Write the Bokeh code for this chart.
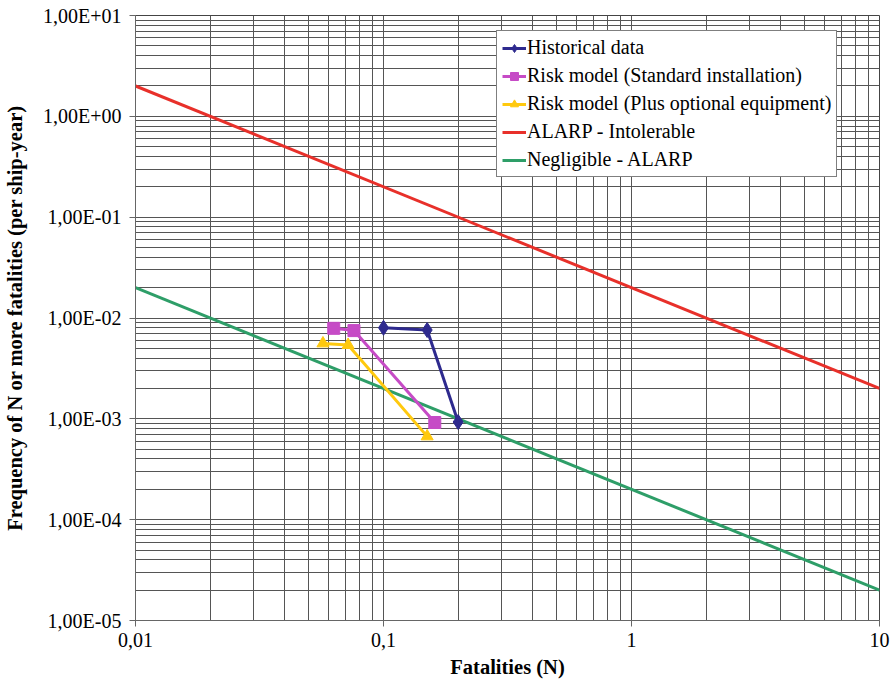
from bokeh.plotting import figure
from bokeh.models import FixedTicker, CustomJSTickFormatter, Legend, LegendItem
from bokeh.embed import file_html
from bokeh.resources import INLINE

# Data
hist_x = [0.1, 0.15, 0.2]
hist_y = [0.0080, 0.0076, 0.00093]
std_x = [0.063, 0.076, 0.161]
std_y = [0.0079, 0.0075, 0.00092]
opt_x = [0.057, 0.072, 0.150]
opt_y = [0.0056, 0.0054, 0.00067]
alarp_x = [0.01, 10]
alarp_y = [2.0, 0.002]
negl_x = [0.01, 10]
negl_y = [0.02, 0.00002]

x_ticks = [0.01, 0.1, 1, 10]
y_ticks = [1e-5, 1e-4, 1e-3, 1e-2, 1e-1, 1e0, 1e1]

x_minor = [m * t for t in x_ticks[:-1] for m in range(2, 10)]
y_minor = [m * t for t in y_ticks[:-1] for m in range(2, 10)]

FONT = "Liberation Serif"

p = figure(width=890, height=675, frame_width=744, frame_height=605,
           x_axis_type="log", y_axis_type="log",
           x_range=(0.01, 10), y_range=(1e-5, 10),
           output_backend="svg", toolbar_location=None,
           min_border_left=135, min_border_right=11, min_border_top=15, min_border_bottom=55,
           background_fill_color="white", border_fill_color="white")
p.outline_line_color = "#444444"

p.xaxis.ticker = FixedTicker(ticks=x_ticks, minor_ticks=x_minor)
p.yaxis.ticker = FixedTicker(ticks=y_ticks, minor_ticks=y_minor)
p.xaxis.formatter = CustomJSTickFormatter(code="return tick.toString().replace('.', ',');")
p.yaxis.formatter = CustomJSTickFormatter(code="""
var e = Math.round(Math.log10(tick));
var s = e < 0 ? '-' : '+';
var a = Math.abs(e);
return '1,00E' + s + (a < 10 ? '0' : '') + a;
""")

for ax in (p.xaxis, p.yaxis):
    ax.major_label_text_font = FONT
    ax.major_label_text_font_size = "20px"
    ax.major_label_text_color = "black"
    ax.axis_label_text_font = FONT
    ax.axis_label_text_font_size = "20.5px"
    ax.axis_label_text_font_style = "bold"
    ax.axis_label_text_color = "black"
    ax.axis_line_color = "#666666"
    ax.major_tick_line_color = "#666666"
    ax.major_tick_out = 6
    ax.major_tick_in = 0
    ax.minor_tick_out = 0
    ax.minor_tick_in = 0

p.xaxis.axis_label = "Fatalities (N)"
p.yaxis.axis_label = "Frequency of N or more fatalities (per ship-year)"
p.xaxis.major_label_standoff = 6
p.xaxis.axis_label_standoff = 6
p.yaxis.major_label_standoff = 8
p.yaxis.axis_label_standoff = 14

for g in (p.xgrid, p.ygrid):
    g.grid_line_color = "#555555"
    g.grid_line_width = 1
    g.minor_grid_line_color = "#555555"
    g.minor_grid_line_width = 1

HIST = "#2E2A8E"
STD = "#C64BC6"
OPT = "#FFC90E"
RED = "#E8302A"
GRN = "#2E9E68"

r_alarp = p.line(alarp_x, alarp_y, line_color=RED, line_width=3)
r_negl = p.line(negl_x, negl_y, line_color=GRN, line_width=3)

r1l = p.line(hist_x, hist_y, line_color=HIST, line_width=3)
r1s = p.scatter(hist_x, hist_y, marker="diamond", size=15, color=HIST)
r2l = p.line(std_x, std_y, line_color=STD, line_width=3)
r2s = p.scatter(std_x, std_y, marker="square", size=12, color=STD)
r3l = p.line(opt_x, opt_y, line_color=OPT, line_width=3)
r3s = p.scatter(opt_x, opt_y, marker="triangle", size=12, color=OPT)

legend = Legend(items=[
    LegendItem(label="Historical data", renderers=[r1l, r1s]),
    LegendItem(label="Risk model (Standard installation)", renderers=[r2l, r2s]),
    LegendItem(label="Risk model (Plus optional equipment)", renderers=[r3l, r3s]),
    LegendItem(label="ALARP - Intolerable", renderers=[r_alarp]),
    LegendItem(label="Negligible - ALARP", renderers=[r_negl]),
], location=(361, 443))
legend.label_text_font = FONT
legend.label_text_font_size = "20px"
legend.label_text_color = "black"
legend.border_line_color = "black"
legend.border_line_width = 1
legend.background_fill_color = "white"
legend.background_fill_alpha = 1
legend.glyph_width = 24
legend.glyph_height = 20
legend.label_standoff = 1
legend.spacing = 5
legend.padding = 5
legend.margin = 0
legend.label_height = 22
p.add_layout(legend)

open("out.html", "w").write(file_html(p, INLINE))
